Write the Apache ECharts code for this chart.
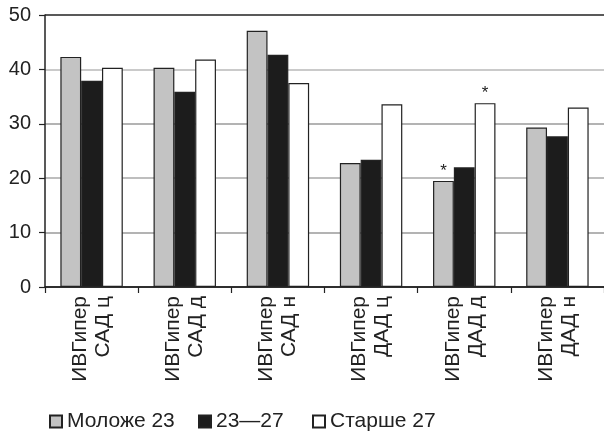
<!DOCTYPE html>
<html>
<head>
<meta charset="utf-8">
<script src="https://cdn.jsdelivr.net/npm/echarts@6/dist/echarts.min.js"></script>
<style>html,body{margin:0;padding:0;background:#fff;}#c{width:604px;height:432px;}</style>
</head>
<body>
<div id="c"></div>
<script>
const categories = ['ИВГипер\nСАД ц','ИВГипер\nСАД д','ИВГипер\nСАД н','ИВГипер\nДАД ц','ИВГипер\nДАД д','ИВГипер\nДАД н'];
const seriesNames = ['Моложе 23','23—27','Старше 27'];
const young = [42.3, 40.3, 47.1, 22.8, 19.5, 29.3];
const mid = [37.9, 35.9, 42.7, 23.4, 22.0, 27.7];
const old = [40.3, 41.8, 37.5, 33.6, 33.8, 33.0];
const youngMarked = [4];
const oldMarked = [4];
const yTicks = [0, 10, 20, 30, 40, 50];

const FONT = 'Liberation Sans';
function withMarks(vals, marked) {
  return vals.map((v, i) => marked.indexOf(i) >= 0
    ? {value: v, label: {show: true, formatter: '*', position: 'top', distance: 1, fontSize: 17, color: '#222', fontFamily: FONT}}
    : v);
}
const colors = ['#c3c3c3', '#1c1c1c', '#ffffff'];
const datasets = [withMarks(young, youngMarked), mid, withMarks(old, oldMarked)];
const legendLefts = [49, 198, 312];

const chart = echarts.init(document.getElementById('c'), null, {renderer: 'canvas'});
chart.setOption({
  animation: false,
  backgroundColor: '#fff',
  textStyle: {fontFamily: FONT, color: '#222'},
  grid: {left: 45, top: 15, width: 564, height: 272, containLabel: false},
  legend: seriesNames.map((n, i) => ({
    left: legendLefts[i], top: 411, padding: 0,
    itemWidth: 12, itemHeight: 12,
    icon: 'rect',
    textStyle: {fontFamily: FONT, fontSize: 21, color: '#222'},
    data: [n]
  })),
  xAxis: {
    type: 'category',
    data: categories,
    axisLine: {lineStyle: {color: '#222', width: 1.5}},
    axisTick: {show: true, length: 6, lineStyle: {color: '#222', width: 1.2}},
    axisLabel: {rotate: 90, margin: 9, fontSize: 21, lineHeight: 23, color: '#222', fontFamily: FONT, interval: 0, padding: [10, 0, 0, 0]}
  },
  yAxis: {
    type: 'value',
    min: yTicks[0], max: yTicks[yTicks.length - 1], interval: 10,
    axisLine: {show: true, lineStyle: {color: '#222', width: 1.5}},
    axisTick: {show: true, length: 6, lineStyle: {color: '#222', width: 1.2}},
    axisLabel: {margin: 14, fontSize: 20, color: '#222', fontFamily: FONT},
    splitLine: {show: true, lineStyle: {color: ['#222', '#9a9a9a', '#a8a8a8', '#9a9a9a', '#b8b8b8', '#222'], width: [1.5]}}
  },
  series: seriesNames.map((name, k) => ({
    name: name,
    type: 'bar',
    data: datasets[k],
    barGap: '0%',
    barCategoryGap: '33%',
    itemStyle: {color: colors[k], borderColor: '#222', borderWidth: 1.2}
  }))
});
</script>
</body>
</html>
